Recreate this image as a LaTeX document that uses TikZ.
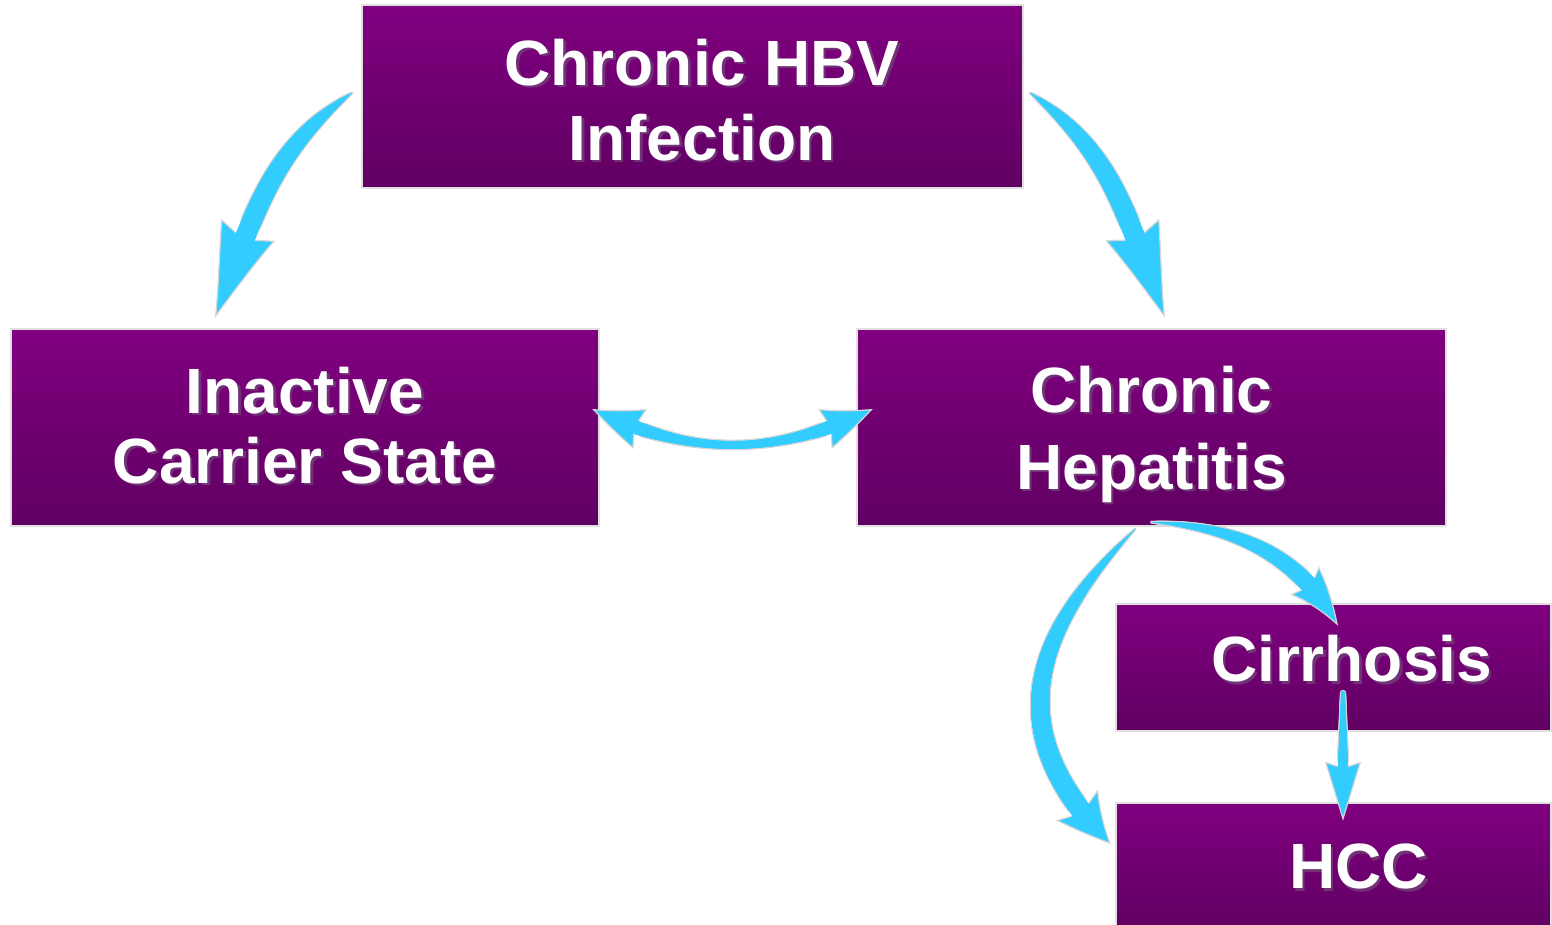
\documentclass[tikz,border=0pt]{standalone}
\usepackage{fontspec}
\setmainfont{Liberation Sans}
\usetikzlibrary{arrows.meta,bending,decorations.markings,calc}

\definecolor{boxtop}{RGB}{128,0,128}
\definecolor{boxbottom}{RGB}{96,0,98}
\definecolor{boxedge}{RGB}{224,224,224}
\definecolor{arrowfill}{RGB}{51,204,255}
\definecolor{arrowedge}{RGB}{214,214,214}
\definecolor{glowcol}{RGB}{112,52,118}

% white text with a soft dark copy behind it
\newcommand\glow[1]{\leavevmode\rlap{\kern2.5pt\raisebox{-2.5pt}[0pt][0pt]{\textcolor{glowcol}{#1}}}#1}

\tikzset{
  stage/.style={rectangle, draw=boxedge, line width=2.5pt, top color=boxtop, bottom color=boxbottom,
    text=white, align=center, inner sep=0pt, font=\bfseries\fontsize{64}{75}\selectfont},
  flow/.style={draw=arrowedge, line width=1.2pt},
  % tapered shaft: r0, r1, power, stop of edge, stop of fill
  shaft/.style n args={5}{
    postaction={decorate, decoration={markings,
      mark=between positions 0 and -#4 step 0.7pt with {
        \pgfmathsetmacro\shaftr{#1+(#2-#1)*(1-(1-\pgfkeysvalueof{/pgf/decoration/mark info/distance from start}/\pgfdecoratedpathlength)^#3)+1.2}
        \fill[arrowedge] (0,0) circle[radius=\shaftr pt];}}},
    postaction={decorate, decoration={markings,
      mark=between positions 0 and -#5 step 0.7pt with {
        \pgfmathsetmacro\shaftr{#1+(#2-#1)*(1-(1-\pgfkeysvalueof{/pgf/decoration/mark info/distance from start}/\pgfdecoratedpathlength)^#3)}
        \fill[arrowfill] (0,0) circle[radius=\shaftr pt];}}}},
  % shaft thin in the middle, wide at both heads
  shaftboth/.style n args={5}{
    postaction={decorate, decoration={markings,
      mark=between positions #4 and -#4 step 0.7pt with {
        \pgfmathsetmacro\shaftr{#1+(#2-#1)*abs(2*\pgfkeysvalueof{/pgf/decoration/mark info/distance from start}/\pgfdecoratedpathlength-1)^#3+1.2}
        \fill[arrowedge] (0,0) circle[radius=\shaftr pt];}}},
    postaction={decorate, decoration={markings,
      mark=between positions #5 and -#5 step 0.7pt with {
        \pgfmathsetmacro\shaftr{#1+(#2-#1)*abs(2*\pgfkeysvalueof{/pgf/decoration/mark info/distance from start}/\pgfdecoratedpathlength-1)^#3}
        \fill[arrowfill] (0,0) circle[radius=\shaftr pt];}}}},
}

\begin{document}
\begin{tikzpicture}[x=1pt,y=1pt]

\useasboundingbox[fill=white] (0,0) rectangle (1552,-925);

% stages
\node[stage, minimum width=661pt, minimum height=183pt, text height=129pt, text depth=1pt] (hbv) at (692.5,-96.5)
  {\hspace*{19pt}\glow{Chronic HBV}\\\hspace*{19pt}\glow{Infection}};
\node[stage, minimum width=588pt, minimum height=197pt, text depth=5pt, font=\bfseries\fontsize{64}{70}\selectfont] (inactive) at (305,-427.5)
  {\glow{Inactive}\\\glow{Carrier State}};
\node[stage, minimum width=589pt, minimum height=197pt, text depth=0pt, font=\bfseries\fontsize{64}{77}\selectfont] (hepatitis) at (1151.5,-427.5)
  {\glow{Chronic}\\\glow{Hepatitis}};
\node[stage, minimum width=435pt, minimum height=127pt, text depth=17.6pt] (cirrhosis) at (1333.5,-667.5)
  {\hspace*{36pt}\glow{Cirrhosis}};
\node[stage, minimum width=435pt, minimum height=127pt] (hcc) at (1333.5,-866.5)
  {\hspace*{50pt}\glow{HCC}};

% arrow ends
\coordinate (a0) at ($(hbv.west)+(-9,3.5)$);
\coordinate (a1) at ($(inactive.north)+(-90,10)$);
\coordinate (b0) at ($(hbv.east)+(6,3.5)$);
\coordinate (b1) at ($(hepatitis.north)+(13.5,10)$);
\coordinate (c0) at ($(inactive.east)+(-8,18.5)$);
\coordinate (c1) at ($(hepatitis.west)+(17,18.5)$);
\coordinate (d0) at ($(hepatitis.south)+(0,5)$);
\coordinate (d1) at ($(cirrhosis.north)+(4.5,-23)$);
\coordinate (e0) at ($(hepatitis.south)+(-16.5,-2)$);
\coordinate (e1) at ($(hcc.west)+(-4,22.5)$);
\coordinate (f0) at ($(cirrhosis.center)+(9.5,-25.5)$);
\coordinate (f1) at ($(hcc.north)+(9.5,-19)$);

% arrows
\draw[flow, -{Stealth[length=102pt,width=58pt,inset=12pt,bend,fill=arrowfill]},
  shaft={0.4}{10}{5}{104pt}{88pt}] (a0) to[out=215,in=69] (a1);
\draw[flow, -{Stealth[length=102pt,width=58pt,inset=12pt,bend,fill=arrowfill]},
  shaft={0.4}{10}{5}{104pt}{88pt}] (b0) to[out=-35,in=111] (b1);
\draw[flow, {Stealth[length=54pt,width=42pt,inset=6pt,bend,fill=arrowfill]}-{Stealth[length=54pt,width=42pt,inset=6pt,bend,fill=arrowfill]},
  shaftboth={4}{10}{2}{56pt}{46pt}] (c0) to[out=-26,in=206] (c1);
\draw[flow, -{Stealth[length=60pt,width=40pt,inset=9pt,bend,fill=arrowfill]},
  shaft={0.4}{9}{2}{62pt}{50pt}] (d0) to[out=-3,in=119] (d1);
\draw[flow, -{Stealth[length=55pt,width=52pt,inset=10pt,bend,fill=arrowfill]},
  shaft={0.4}{10}{3}{57pt}{45pt}] (e0) to[out=225,in=135,looseness=1.25] (e1);
\draw[flow, -{Stealth[length=59pt,width=36pt,inset=6pt,fill=arrowfill]},
  shaft={2}{7.5}{1}{61pt}{53pt}] (f0) -- (f1);

\end{tikzpicture}
\end{document}
